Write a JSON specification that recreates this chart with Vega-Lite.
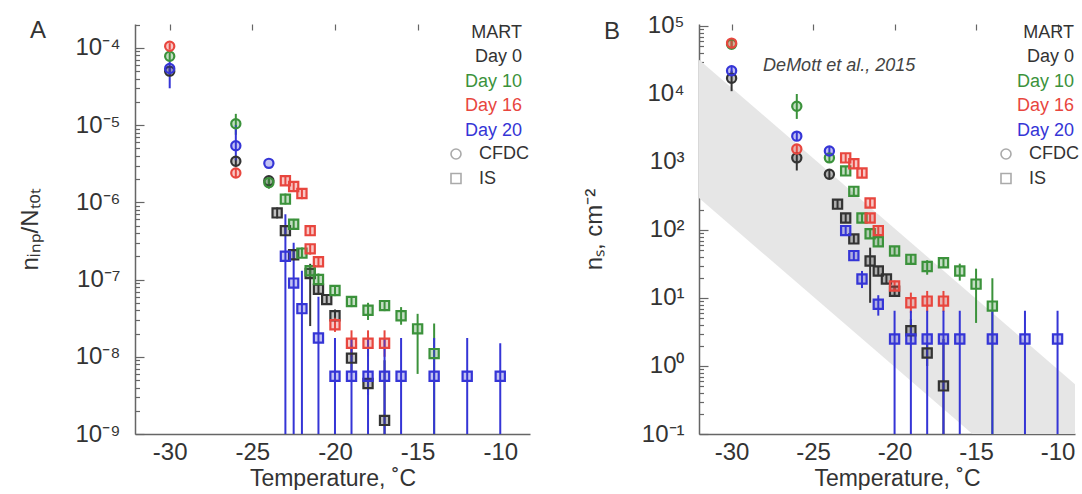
{
  "$schema": "https://vega.github.io/schema/vega-lite/v6.json",
  "background": "white",
  "padding": {"left": 18, "top": 12, "right": 0, "bottom": 0},
  "spacing": 52,
  "config": {
    "view": {"stroke": null},
    "font": "Liberation Sans",
    "axis": {"grid": false, "domainColor": "#666666", "domainWidth": 1.5, "labelColor": "#333333", "titleColor": "#333333", "labelFontSize": 24, "titleFontSize": 23, "titleFontWeight": "normal", "labelFont": "Liberation Sans", "titleFont": "Liberation Sans"},
    "legend": {"labelFont": "Liberation Sans", "titleFont": "Liberation Sans", "labelFontSize": 18, "titleFontSize": 18, "labelColor": "#333333", "titleColor": "#333333", "titleFontWeight": "normal", "padding": 0}
  },
  "datasets": {
    "A": [
      {"T": -30, "v": 5.0e-5, "lo": 4.3e-5, "hi": 5.8e-5, "day": "Day 0", "inst": "CFDC"},
      {"T": -26, "v": 3.4e-6, "lo": 2.9e-6, "hi": 4.0e-6, "day": "Day 0", "inst": "CFDC"},
      {"T": -24, "v": 1.9e-6, "lo": 1.6e-6, "hi": 2.2e-6, "day": "Day 0", "inst": "CFDC"},
      {"T": -23.5, "v": 7.3e-7, "lo": 6.2e-7, "hi": 8.6e-7, "day": "Day 0", "inst": "IS"},
      {"T": -23, "v": 4.3e-7, "lo": 3.7e-7, "hi": 5.0e-7, "day": "Day 0", "inst": "IS"},
      {"T": -22.5, "v": 2.1e-7, "lo": 1.8e-7, "hi": 2.5e-7, "day": "Day 0", "inst": "IS"},
      {"T": -21.5, "v": 1.2e-7, "lo": 2.5e-8, "hi": 1.6e-7, "day": "Day 0", "inst": "IS"},
      {"T": -21, "v": 7.5e-8, "lo": 6.4e-8, "hi": 8.8e-8, "day": "Day 0", "inst": "IS"},
      {"T": -20.5, "v": 5.5e-8, "lo": 4.7e-8, "hi": 6.4e-8, "day": "Day 0", "inst": "IS"},
      {"T": -20, "v": 3.4e-8, "lo": 2.8e-8, "hi": 4.1e-8, "day": "Day 0", "inst": "IS"},
      {"T": -19, "v": 9.6e-9, "lo": 6.5e-9, "hi": 1.4e-8, "day": "Day 0", "inst": "IS"},
      {"T": -18, "v": 4.5e-9, "lo": 3.2e-9, "hi": 6.0e-9, "day": "Day 0", "inst": "IS"},
      {"T": -17, "v": 1.5e-9, "lo": 1e-12, "hi": 9e-9, "day": "Day 0", "inst": "IS"},
      {"T": -30, "v": 7.8e-5, "lo": 7.0e-5, "hi": 8.7e-5, "day": "Day 10", "inst": "CFDC"},
      {"T": -26, "v": 1.04e-5, "lo": 7.5e-6, "hi": 1.4e-5, "day": "Day 10", "inst": "CFDC"},
      {"T": -24, "v": 1.8e-6, "lo": 1.5e-6, "hi": 2.1e-6, "day": "Day 10", "inst": "CFDC"},
      {"T": -23, "v": 1.1e-6, "lo": 9.4e-7, "hi": 1.3e-6, "day": "Day 10", "inst": "IS"},
      {"T": -22.5, "v": 5.2e-7, "lo": 4.4e-7, "hi": 6.1e-7, "day": "Day 10", "inst": "IS"},
      {"T": -22, "v": 2.2e-7, "lo": 1.9e-7, "hi": 2.6e-7, "day": "Day 10", "inst": "IS"},
      {"T": -21.5, "v": 1.3e-7, "lo": 1.1e-7, "hi": 1.5e-7, "day": "Day 10", "inst": "IS"},
      {"T": -21, "v": 1.0e-7, "lo": 8.5e-8, "hi": 1.2e-7, "day": "Day 10", "inst": "IS"},
      {"T": -20, "v": 7.2e-8, "lo": 6.1e-8, "hi": 8.5e-8, "day": "Day 10", "inst": "IS"},
      {"T": -19, "v": 5.2e-8, "lo": 4.4e-8, "hi": 6.1e-8, "day": "Day 10", "inst": "IS"},
      {"T": -18, "v": 4.0e-8, "lo": 3.0e-8, "hi": 5.0e-8, "day": "Day 10", "inst": "IS"},
      {"T": -17, "v": 4.6e-8, "lo": 3.9e-8, "hi": 5.4e-8, "day": "Day 10", "inst": "IS"},
      {"T": -16, "v": 3.4e-8, "lo": 2.6e-8, "hi": 4.4e-8, "day": "Day 10", "inst": "IS"},
      {"T": -15, "v": 2.3e-8, "lo": 6e-9, "hi": 3.6e-8, "day": "Day 10", "inst": "IS"},
      {"T": -14, "v": 1.1e-8, "lo": 1e-12, "hi": 2.7e-8, "day": "Day 10", "inst": "IS"},
      {"T": -30, "v": 1.05e-4, "lo": 9.5e-5, "hi": 1.15e-4, "day": "Day 16", "inst": "CFDC"},
      {"T": -26, "v": 2.4e-6, "lo": 2.1e-6, "hi": 2.8e-6, "day": "Day 16", "inst": "CFDC"},
      {"T": -23, "v": 1.9e-6, "lo": 1.65e-6, "hi": 2.2e-6, "day": "Day 16", "inst": "IS"},
      {"T": -22.5, "v": 1.6e-6, "lo": 1.4e-6, "hi": 1.85e-6, "day": "Day 16", "inst": "IS"},
      {"T": -22, "v": 1.3e-6, "lo": 1.1e-6, "hi": 1.5e-6, "day": "Day 16", "inst": "IS"},
      {"T": -21.5, "v": 4.3e-7, "lo": 3.7e-7, "hi": 5.0e-7, "day": "Day 16", "inst": "IS"},
      {"T": -21.5, "v": 2.5e-7, "lo": 2.1e-7, "hi": 2.9e-7, "day": "Day 16", "inst": "IS"},
      {"T": -21, "v": 1.7e-7, "lo": 1.45e-7, "hi": 2.0e-7, "day": "Day 16", "inst": "IS"},
      {"T": -20, "v": 2.6e-8, "lo": 2.1e-8, "hi": 3.2e-8, "day": "Day 16", "inst": "IS"},
      {"T": -19, "v": 1.5e-8, "lo": 1.0e-8, "hi": 2.2e-8, "day": "Day 16", "inst": "IS"},
      {"T": -18, "v": 1.5e-8, "lo": 1.0e-8, "hi": 2.2e-8, "day": "Day 16", "inst": "IS"},
      {"T": -17, "v": 1.5e-8, "lo": 1.0e-8, "hi": 2.2e-8, "day": "Day 16", "inst": "IS"},
      {"T": -30, "v": 5.4e-5, "lo": 3.0e-5, "hi": 7.0e-5, "day": "Day 20", "inst": "CFDC"},
      {"T": -26, "v": 5.4e-6, "lo": 3.5e-6, "hi": 1.0e-5, "day": "Day 20", "inst": "CFDC"},
      {"T": -24, "v": 3.2e-6, "lo": 3.2e-6, "hi": 3.2e-6, "day": "Day 20", "inst": "CFDC"},
      {"T": -23, "v": 2.0e-7, "lo": 1e-12, "hi": 7e-7, "day": "Day 20", "inst": "IS"},
      {"T": -22.5, "v": 9e-8, "lo": 1e-12, "hi": 3e-7, "day": "Day 20", "inst": "IS"},
      {"T": -22, "v": 4.2e-8, "lo": 1e-12, "hi": 1.3e-7, "day": "Day 20", "inst": "IS"},
      {"T": -21, "v": 1.75e-8, "lo": 1e-12, "hi": 6e-8, "day": "Day 20", "inst": "IS"},
      {"T": -20, "v": 5.6e-9, "lo": 1e-12, "hi": 1.75e-8, "day": "Day 20", "inst": "IS"},
      {"T": -19, "v": 5.6e-9, "lo": 1e-12, "hi": 1.75e-8, "day": "Day 20", "inst": "IS"},
      {"T": -18, "v": 5.6e-9, "lo": 1e-12, "hi": 1.75e-8, "day": "Day 20", "inst": "IS"},
      {"T": -17, "v": 5.6e-9, "lo": 1e-12, "hi": 1.75e-8, "day": "Day 20", "inst": "IS"},
      {"T": -16, "v": 5.6e-9, "lo": 1e-12, "hi": 1.75e-8, "day": "Day 20", "inst": "IS"},
      {"T": -14, "v": 5.6e-9, "lo": 1e-12, "hi": 1.75e-8, "day": "Day 20", "inst": "IS"},
      {"T": -12, "v": 5.6e-9, "lo": 1e-12, "hi": 1.75e-8, "day": "Day 20", "inst": "IS"},
      {"T": -10, "v": 5.6e-9, "lo": 1e-12, "hi": 1.5e-8, "day": "Day 20", "inst": "IS"}
    ],
    "B": [
      {"T": -30, "v": 1.7e4, "lo": 1.1e4, "hi": 2.2e4, "day": "Day 0", "inst": "CFDC"},
      {"T": -26, "v": 1150, "lo": 750, "hi": 1400, "day": "Day 0", "inst": "CFDC"},
      {"T": -24, "v": 660, "lo": 560, "hi": 780, "day": "Day 0", "inst": "CFDC"},
      {"T": -23.5, "v": 240, "lo": 205, "hi": 280, "day": "Day 0", "inst": "IS"},
      {"T": -23, "v": 150, "lo": 128, "hi": 175, "day": "Day 0", "inst": "IS"},
      {"T": -22.5, "v": 74, "lo": 63, "hi": 87, "day": "Day 0", "inst": "IS"},
      {"T": -21.5, "v": 35, "lo": 8.5, "hi": 55, "day": "Day 0", "inst": "IS"},
      {"T": -21, "v": 25, "lo": 21, "hi": 29, "day": "Day 0", "inst": "IS"},
      {"T": -20.5, "v": 19, "lo": 16, "hi": 22, "day": "Day 0", "inst": "IS"},
      {"T": -20, "v": 12.6, "lo": 10.7, "hi": 14.8, "day": "Day 0", "inst": "IS"},
      {"T": -19, "v": 3.3, "lo": 2.3, "hi": 4.9, "day": "Day 0", "inst": "IS"},
      {"T": -18, "v": 1.55, "lo": 1.0, "hi": 2.2, "day": "Day 0", "inst": "IS"},
      {"T": -17, "v": 0.51, "lo": 0.001, "hi": 2.5, "day": "Day 0", "inst": "IS"},
      {"T": -30, "v": 5.4e4, "lo": 4.8e4, "hi": 6.1e4, "day": "Day 10", "inst": "CFDC"},
      {"T": -26, "v": 6600, "lo": 4300, "hi": 10000, "day": "Day 10", "inst": "CFDC"},
      {"T": -24, "v": 1150, "lo": 980, "hi": 1350, "day": "Day 10", "inst": "CFDC"},
      {"T": -23, "v": 740, "lo": 630, "hi": 870, "day": "Day 10", "inst": "IS"},
      {"T": -22.5, "v": 370, "lo": 315, "hi": 435, "day": "Day 10", "inst": "IS"},
      {"T": -22, "v": 150, "lo": 128, "hi": 176, "day": "Day 10", "inst": "IS"},
      {"T": -21.5, "v": 88, "lo": 75, "hi": 103, "day": "Day 10", "inst": "IS"},
      {"T": -21, "v": 67, "lo": 57, "hi": 79, "day": "Day 10", "inst": "IS"},
      {"T": -20, "v": 49, "lo": 42, "hi": 58, "day": "Day 10", "inst": "IS"},
      {"T": -19, "v": 37, "lo": 31, "hi": 43, "day": "Day 10", "inst": "IS"},
      {"T": -18, "v": 29, "lo": 22, "hi": 36, "day": "Day 10", "inst": "IS"},
      {"T": -17, "v": 33, "lo": 28, "hi": 39, "day": "Day 10", "inst": "IS"},
      {"T": -16, "v": 25, "lo": 18, "hi": 32, "day": "Day 10", "inst": "IS"},
      {"T": -15, "v": 16, "lo": 4.3, "hi": 27, "day": "Day 10", "inst": "IS"},
      {"T": -14, "v": 7.6, "lo": 0.001, "hi": 19.5, "day": "Day 10", "inst": "IS"},
      {"T": -30, "v": 5.6e4, "lo": 4.8e4, "hi": 6.6e4, "day": "Day 16", "inst": "CFDC"},
      {"T": -26, "v": 1550, "lo": 1300, "hi": 1800, "day": "Day 16", "inst": "CFDC"},
      {"T": -23, "v": 1150, "lo": 980, "hi": 1350, "day": "Day 16", "inst": "IS"},
      {"T": -22.5, "v": 940, "lo": 800, "hi": 1100, "day": "Day 16", "inst": "IS"},
      {"T": -22, "v": 690, "lo": 590, "hi": 810, "day": "Day 16", "inst": "IS"},
      {"T": -21.5, "v": 250, "lo": 213, "hi": 294, "day": "Day 16", "inst": "IS"},
      {"T": -21.5, "v": 150, "lo": 128, "hi": 176, "day": "Day 16", "inst": "IS"},
      {"T": -21, "v": 98, "lo": 83, "hi": 115, "day": "Day 16", "inst": "IS"},
      {"T": -20, "v": 15, "lo": 12.5, "hi": 18, "day": "Day 16", "inst": "IS"},
      {"T": -19, "v": 8.5, "lo": 6, "hi": 12, "day": "Day 16", "inst": "IS"},
      {"T": -18, "v": 9, "lo": 6.3, "hi": 12.7, "day": "Day 16", "inst": "IS"},
      {"T": -17, "v": 9, "lo": 6.3, "hi": 12.7, "day": "Day 16", "inst": "IS"},
      {"T": -30, "v": 2.2e4, "lo": 1.9e4, "hi": 2.6e4, "day": "Day 20", "inst": "CFDC"},
      {"T": -26, "v": 2400, "lo": 2050, "hi": 2800, "day": "Day 20", "inst": "CFDC"},
      {"T": -24, "v": 1450, "lo": 1240, "hi": 1700, "day": "Day 20", "inst": "CFDC"},
      {"T": -23, "v": 98, "lo": 83, "hi": 115, "day": "Day 20", "inst": "IS"},
      {"T": -22.5, "v": 42, "lo": 36, "hi": 49, "day": "Day 20", "inst": "IS"},
      {"T": -22, "v": 19, "lo": 14, "hi": 25, "day": "Day 20", "inst": "IS"},
      {"T": -21, "v": 8.1, "lo": 5.5, "hi": 11, "day": "Day 20", "inst": "IS"},
      {"T": -20, "v": 2.5, "lo": 0.001, "hi": 6.5, "day": "Day 20", "inst": "IS"},
      {"T": -19, "v": 2.5, "lo": 0.001, "hi": 6.5, "day": "Day 20", "inst": "IS"},
      {"T": -18, "v": 2.5, "lo": 0.001, "hi": 6.5, "day": "Day 20", "inst": "IS"},
      {"T": -17, "v": 2.5, "lo": 0.001, "hi": 6.5, "day": "Day 20", "inst": "IS"},
      {"T": -16, "v": 2.5, "lo": 0.001, "hi": 6.5, "day": "Day 20", "inst": "IS"},
      {"T": -14, "v": 2.5, "lo": 0.001, "hi": 6.5, "day": "Day 20", "inst": "IS"},
      {"T": -12, "v": 2.5, "lo": 0.001, "hi": 6.5, "day": "Day 20", "inst": "IS"},
      {"T": -10, "v": 2.5, "lo": 0.001, "hi": 6.5, "day": "Day 20", "inst": "IS"}
    ],
    "band": [
      {"T": -32, "lo": 295, "hi": 32000},
      {"T": -8.93, "lo": 0.005, "hi": 0.54}
    ],
    "note": [
      {"label": "DeMott et al., 2015", "T": -23.4, "v": 26000}
    ]
  },
  "hconcat": [
    {
      "width": 395,
      "height": 410,
      "title": {"text": "A", "anchor": "start", "frame": "group", "orient": "top", "dx": -105, "offset": -49, "fontSize": 24, "fontWeight": "normal", "color": "#333333", "baseline": "alphabetic", "font": "Liberation Sans"},
      "data": {"name": "A"},
      "encoding": {
        "x": {"field": "T", "type": "quantitative", "title": "Temperature, ˚C", "scale": {"domain": [-32.1, -8.2], "nice": false, "zero": false}, "axis": {"values": [-30, -25, -20, -15, -10], "labelExpr": "'' + datum.value", "ticks": false, "grid": true, "gridColor": "#666666", "gridWidth": 1.2, "gridDash": [6, 3000], "labelPadding": 6, "titlePadding": 3, "labelFlush": false}},
        "color": {"field": "day", "type": "nominal", "scale": {"domain": ["Day 0", "Day 10", "Day 16", "Day 20"], "range": ["#333333", "#3b923b", "#e8463e", "#3535d6"]},
          "legend": {"title": "MART", "orient": "none", "legendX": 336, "legendY": 0, "labelAlign": "right", "symbolSize": 0, "symbolStrokeWidth": 0, "symbolOpacity": 0, "titleAnchor": "end", "rowPadding": 6.5, "titlePadding": 6,
            "encode": {"labels": {"update": {"fill": {"signal": "datum.value === 'Day 10' ? '#3b923b' : datum.value === 'Day 16' ? '#e8463e' : datum.value === 'Day 20' ? '#3535d6' : '#333333'"}}}}}}
      },
      "layer": [
        {
          "mark": {"type": "rule", "strokeWidth": 2, "clip": true},
          "encoding": {
            "y": {"field": "lo", "type": "quantitative", "title": "nᵢₙₚ/Nₜₒₜ", "scale": {"type": "log", "domain": [1e-9, 2.04e-4], "nice": false},
              "axis": {"tickCount": 20, "labelOverlap": false, "labelExpr": "abs(log(datum.value)/LN10 - round(log(datum.value)/LN10)) < 0.001 ? '10' + (round(log(datum.value)/LN10) < 0 ? '⁻' : '') + substring('⁰¹²³⁴⁵⁶⁷⁸⁹', abs(round(log(datum.value)/LN10)), abs(round(log(datum.value)/LN10)) + 1) : ''", "ticks": false, "grid": true, "gridColor": "#666666", "gridWidth": 1.2, "gridDash": {"condition": {"test": "abs(log(datum.value)/LN10 - round(log(datum.value)/LN10)) < 0.001", "value": [9, 3000]}, "value": [4.5, 3000]}, "labelPadding": 15, "titlePadding": 32, "titleFontSize": 24}},
            "y2": {"field": "hi"}
          }
        },
        {
          "mark": {"type": "point", "filled": false, "size": 85, "strokeWidth": 2.2, "fillOpacity": 0.3, "opacity": 1},
          "encoding": {
            "y": {"field": "v", "type": "quantitative", "title": "nᵢₙₚ/Nₜₒₜ", "scale": {"type": "log", "domain": [1e-9, 2.04e-4], "nice": false},
              "axis": {"tickCount": 20, "labelOverlap": false, "labelExpr": "abs(log(datum.value)/LN10 - round(log(datum.value)/LN10)) < 0.001 ? '10' + (round(log(datum.value)/LN10) < 0 ? '⁻' : '') + substring('⁰¹²³⁴⁵⁶⁷⁸⁹', abs(round(log(datum.value)/LN10)), abs(round(log(datum.value)/LN10)) + 1) : ''", "ticks": false, "grid": true, "gridColor": "#666666", "gridWidth": 1.2, "gridDash": {"condition": {"test": "abs(log(datum.value)/LN10 - round(log(datum.value)/LN10)) < 0.001", "value": [9, 3000]}, "value": [4.5, 3000]}, "labelPadding": 15, "titlePadding": 32, "titleFontSize": 24}},
            "shape": {"field": "inst", "type": "nominal", "scale": {"domain": ["CFDC", "IS"], "range": ["circle", "square"]},
              "legend": {"title": null, "orient": "none", "legendX": 312, "legendY": 121, "rowPadding": 6.5, "symbolSize": 100, "labelOffset": 14, "symbolFillColor": "#ffffff", "symbolStrokeColor": "#aaaaaa", "symbolStrokeWidth": 1.6,
                "encode": {"symbols": {"enter": {"stroke": {"value": "#aaaaaa"}, "fill": {"value": "#ffffff"}}, "update": {"stroke": {"value": "#aaaaaa"}, "fill": {"value": "#ffffff"}, "strokeWidth": {"value": 1.6}, "opacity": {"value": 1}}}}}},
            "fill": {"field": "day", "type": "nominal", "scale": {"domain": ["Day 0", "Day 10", "Day 16", "Day 20"], "range": ["#333333", "#3b923b", "#e8463e", "#3535d6"]}, "legend": null}
          }
        }
      ]
    },
    {
      "width": 376,
      "height": 410,
      "title": {"text": "B", "anchor": "start", "frame": "group", "orient": "top", "dx": -95, "offset": -49, "fontSize": 24, "fontWeight": "normal", "color": "#333333", "baseline": "alphabetic", "font": "Liberation Sans"},
      "encoding": {
        "x": {"field": "T", "type": "quantitative", "title": "Temperature, ˚C", "scale": {"domain": [-32, -8.93], "nice": false, "zero": false}, "axis": {"values": [-30, -25, -20, -15, -10], "labelExpr": "'' + datum.value", "ticks": false, "grid": true, "gridColor": "#666666", "gridWidth": 1.2, "gridDash": [6, 3000], "labelPadding": 6, "titlePadding": 3, "labelFlush": false, "titleX": 198}}
      },
      "layer": [
        {
          "data": {"name": "band"},
          "mark": {"type": "area", "color": "#e6e6e6", "clip": true, "opacity": 1},
          "encoding": {
            "y": {"field": "lo", "type": "quantitative", "title": "nₛ, cm⁻²", "scale": {"type": "log", "domain": [0.1, 1.07e5], "nice": false},
              "axis": {"tickCount": 20, "labelOverlap": false, "labelExpr": "abs(log(datum.value)/LN10 - round(log(datum.value)/LN10)) < 0.001 ? '10' + (round(log(datum.value)/LN10) < 0 ? '⁻' : '') + substring('⁰¹²³⁴⁵⁶⁷⁸⁹', abs(round(log(datum.value)/LN10)), abs(round(log(datum.value)/LN10)) + 1) : ''", "ticks": false, "grid": true, "gridColor": "#666666", "gridWidth": 1.2, "gridDash": {"condition": {"test": "abs(log(datum.value)/LN10 - round(log(datum.value)/LN10)) < 0.001", "value": [9, 3000]}, "value": [4.5, 3000]}, "labelPadding": 15, "titlePadding": 35, "titleFontSize": 24}},
            "y2": {"field": "hi"}
          }
        },
        {
          "data": {"name": "note"},
          "mark": {"type": "text", "fontStyle": "italic", "fontSize": 18, "color": "#444444", "font": "Liberation Sans"},
          "encoding": {
            "y": {"field": "v", "type": "quantitative", "title": "nₛ, cm⁻²", "scale": {"type": "log", "domain": [0.1, 1.07e5], "nice": false},
              "axis": {"tickCount": 20, "labelOverlap": false, "labelExpr": "abs(log(datum.value)/LN10 - round(log(datum.value)/LN10)) < 0.001 ? '10' + (round(log(datum.value)/LN10) < 0 ? '⁻' : '') + substring('⁰¹²³⁴⁵⁶⁷⁸⁹', abs(round(log(datum.value)/LN10)), abs(round(log(datum.value)/LN10)) + 1) : ''", "ticks": false, "grid": true, "gridColor": "#666666", "gridWidth": 1.2, "gridDash": {"condition": {"test": "abs(log(datum.value)/LN10 - round(log(datum.value)/LN10)) < 0.001", "value": [9, 3000]}, "value": [4.5, 3000]}, "labelPadding": 15, "titlePadding": 35, "titleFontSize": 24}},
            "text": {"field": "label"}
          }
        },
        {
          "data": {"name": "B"},
          "encoding": {
            "color": {"field": "day", "type": "nominal", "scale": {"domain": ["Day 0", "Day 10", "Day 16", "Day 20"], "range": ["#333333", "#3b923b", "#e8463e", "#3535d6"]},
              "legend": {"title": "MART", "orient": "none", "legendX": 324, "legendY": 0, "labelAlign": "right", "symbolSize": 0, "symbolStrokeWidth": 0, "symbolOpacity": 0, "titleAnchor": "end", "rowPadding": 6.5, "titlePadding": 6,
                "encode": {"labels": {"update": {"fill": {"signal": "datum.value === 'Day 10' ? '#3b923b' : datum.value === 'Day 16' ? '#e8463e' : datum.value === 'Day 20' ? '#3535d6' : '#333333'"}}}}}}
          },
          "layer": [
            {
              "mark": {"type": "rule", "strokeWidth": 2, "clip": true},
              "encoding": {
                "y": {"field": "lo", "type": "quantitative", "title": "nₛ, cm⁻²", "scale": {"type": "log", "domain": [0.1, 1.07e5], "nice": false},
                  "axis": {"tickCount": 20, "labelOverlap": false, "labelExpr": "abs(log(datum.value)/LN10 - round(log(datum.value)/LN10)) < 0.001 ? '10' + (round(log(datum.value)/LN10) < 0 ? '⁻' : '') + substring('⁰¹²³⁴⁵⁶⁷⁸⁹', abs(round(log(datum.value)/LN10)), abs(round(log(datum.value)/LN10)) + 1) : ''", "ticks": false, "grid": true, "gridColor": "#666666", "gridWidth": 1.2, "gridDash": {"condition": {"test": "abs(log(datum.value)/LN10 - round(log(datum.value)/LN10)) < 0.001", "value": [9, 3000]}, "value": [4.5, 3000]}, "labelPadding": 15, "titlePadding": 35, "titleFontSize": 24}},
                "y2": {"field": "hi"}
              }
            },
            {
              "mark": {"type": "point", "filled": false, "size": 85, "strokeWidth": 2.2, "fillOpacity": 0.3, "opacity": 1},
              "encoding": {
                "y": {"field": "v", "type": "quantitative", "title": "nₛ, cm⁻²", "scale": {"type": "log", "domain": [0.1, 1.07e5], "nice": false},
                  "axis": {"tickCount": 20, "labelOverlap": false, "labelExpr": "abs(log(datum.value)/LN10 - round(log(datum.value)/LN10)) < 0.001 ? '10' + (round(log(datum.value)/LN10) < 0 ? '⁻' : '') + substring('⁰¹²³⁴⁵⁶⁷⁸⁹', abs(round(log(datum.value)/LN10)), abs(round(log(datum.value)/LN10)) + 1) : ''", "ticks": false, "grid": true, "gridColor": "#666666", "gridWidth": 1.2, "gridDash": {"condition": {"test": "abs(log(datum.value)/LN10 - round(log(datum.value)/LN10)) < 0.001", "value": [9, 3000]}, "value": [4.5, 3000]}, "labelPadding": 15, "titlePadding": 35, "titleFontSize": 24}},
                "shape": {"field": "inst", "type": "nominal", "scale": {"domain": ["CFDC", "IS"], "range": ["circle", "square"]},
                  "legend": {"title": null, "orient": "none", "legendX": 298, "legendY": 121, "rowPadding": 6.5, "symbolSize": 100, "labelOffset": 14, "symbolFillColor": "#ffffff", "symbolStrokeColor": "#aaaaaa", "symbolStrokeWidth": 1.6,
                    "encode": {"symbols": {"enter": {"stroke": {"value": "#aaaaaa"}, "fill": {"value": "#ffffff"}}, "update": {"stroke": {"value": "#aaaaaa"}, "fill": {"value": "#ffffff"}, "strokeWidth": {"value": 1.6}, "opacity": {"value": 1}}}}}},
                "fill": {"field": "day", "type": "nominal", "scale": {"domain": ["Day 0", "Day 10", "Day 16", "Day 20"], "range": ["#333333", "#3b923b", "#e8463e", "#3535d6"]}, "legend": null}
              }
            }
          ]
        }
      ]
    }
  ],
  "resolve": {"scale": {"color": "independent", "shape": "independent", "fill": "independent"}}
}
